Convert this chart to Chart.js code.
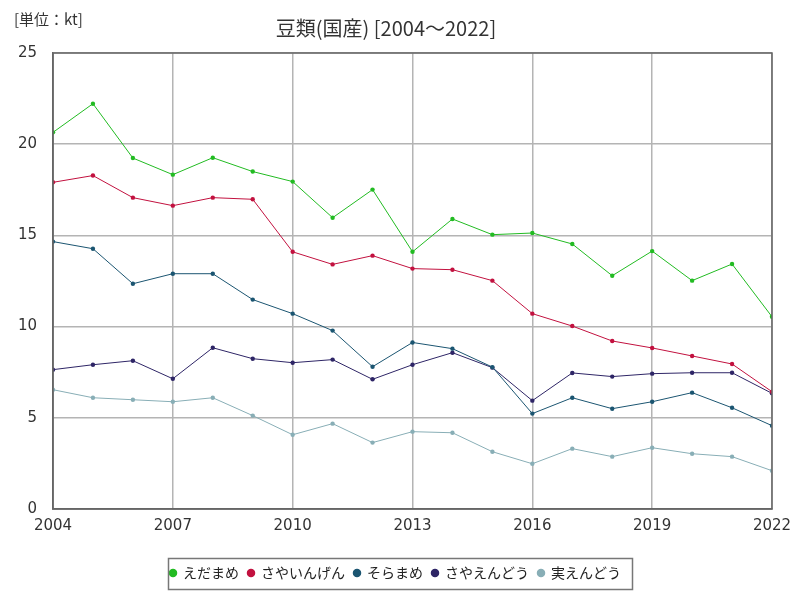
<!DOCTYPE html>
<html>
<head>
<meta charset="utf-8">
<script src="https://cdn.jsdelivr.net/npm/chart.js@4/dist/chart.umd.min.js"></script>
<style>
  html, body { margin: 0; padding: 0; background: #fff; }
  #wrap { position: relative; width: 800px; height: 600px; }
  #unit { position: absolute; left: 14px; top: 8px; font: 15px "Noto Sans CJK JP", sans-serif; color: #333; }
</style>
</head>
<body>
<div id="wrap">
  <canvas id="myChart" width="800" height="600"></canvas>
  <div id="unit">[単位：kt]</div>
</div>
<script>
"use strict";
const years = [2004, 2005, 2006, 2007, 2008, 2009, 2010, 2011, 2012, 2013, 2014, 2015, 2016, 2017, 2018, 2019, 2020, 2021, 2022];
const edamame = [20.65, 22.22, 19.24, 18.33, 19.26, 18.5, 17.95, 15.97, 17.51, 14.1, 15.9, 15.04, 15.13, 14.53, 12.79, 14.14, 12.52, 13.43, 10.54];
const sayaingen = [17.91, 18.28, 17.07, 16.63, 17.07, 16.98, 14.1, 13.41, 13.89, 13.18, 13.12, 12.52, 10.71, 10.03, 9.21, 8.83, 8.39, 7.95, 6.43];
const soramame = [14.66, 14.27, 12.35, 12.9, 12.9, 11.48, 10.71, 9.78, 7.8, 9.13, 8.79, 7.78, 5.23, 6.1, 5.5, 5.88, 6.38, 5.55, 4.57];
const sayaendou = [7.64, 7.91, 8.13, 7.14, 8.84, 8.24, 8.02, 8.19, 7.11, 7.91, 8.57, 7.75, 5.94, 7.46, 7.26, 7.42, 7.47, 7.47, 6.34];
const miendou = [6.54, 6.1, 5.99, 5.88, 6.1, 5.12, 4.07, 4.68, 3.64, 4.24, 4.18, 3.14, 2.48, 3.31, 2.87, 3.36, 3.03, 2.87, 2.1];

const seriesNames = ["えだまめ", "さやいんげん", "そらまめ", "さやえんどう", "実えんどう"];
const seriesColors = ["#22bb22", "#c2113f", "#1b5571", "#2e2566", "#88aeb6"];
const seriesValues = [edamame, sayaingen, soramame, sayaendou, miendou];

const datasets = seriesNames.map((name, k) => ({
  label: name,
  data: years.map((y, i) => ({ x: y, y: seriesValues[k][i] })),
  borderColor: seriesColors[k],
  backgroundColor: seriesColors[k],
  borderWidth: 1,
  pointRadius: 2.2,
  pointHoverRadius: 3,
  pointBorderWidth: 0,
  tension: 0,
}));

let legendBox = null;

// frame around plot area; legend centred on the page with a box round it
const framePlugin = {
  id: "frame",
  afterLayout(chart) {
    const lg = chart.legend;
    if (!lg.lineWidths || !lg.lineWidths.length) return;
    const pad = lg.options.labels.padding;
    const rowW = lg.lineWidths[0];
    const shift = chart.width / 2 - (lg.left + pad + lg.right) / 2;
    lg.left += shift;
    lg.right += shift;
    const w = rowW + 4;
    legendBox = { left: chart.width / 2 - w / 2, top: lg.top + 1, width: w, height: lg.height - 2 };
  },
  afterDraw(chart) {
    const ctx = chart.ctx;
    const a = chart.chartArea;
    ctx.save();
    ctx.strokeStyle = "#666666";
    ctx.lineWidth = 1.5;
    ctx.strokeRect(a.left, a.top, a.right - a.left, a.bottom - a.top);
    if (legendBox) {
      ctx.strokeStyle = "#777777";
      ctx.strokeRect(Math.round(legendBox.left) + 0.5, Math.round(legendBox.top) + 0.5,
        Math.round(legendBox.width), Math.round(legendBox.height));
    }
    ctx.restore();
  },
};

const config = {
  type: "line",
  data: { datasets: datasets },
  options: {
    responsive: false,
    animation: false,
    layout: { padding: { left: 0, right: 28, top: 0, bottom: 10 } },
    plugins: {
      title: {
        display: true,
        text: "豆類(国産) [2004～2022]",
        color: "#333",
        font: { family: "'Noto Sans CJK JP', sans-serif", size: 20, weight: "normal" },
        padding: { top: 16, bottom: 13 },
      },
      legend: {
        display: true,
        position: "bottom",
        labels: {
          usePointStyle: true,
          pointStyle: "circle",
          boxWidth: 6,
          boxHeight: 6,
          padding: 9,
          color: "#222",
          font: { family: "'Noto Sans CJK JP', sans-serif", size: 14 },
        },
      },
      tooltip: { enabled: false },
    },
    scales: {
      x: {
        type: "linear",
        min: 2004,
        max: 2022,
        ticks: {
          stepSize: 3,
          color: "#333",
          padding: 8,
          font: { family: "'DejaVu Sans', sans-serif", size: 15 },
          callback: (v) => String(v),
          maxRotation: 0,
        },
        grid: { color: "#b4b4b4", lineWidth: 1.5, drawTicks: false },
        border: { color: "#666", width: 1.5 },
        afterFit: (scale) => {
          scale.height = 48;
          scale.paddingLeft = 0;
          scale.paddingRight = 0;
        },
      },
      y: {
        min: 0,
        max: 25,
        ticks: {
          stepSize: 5,
          color: "#333",
          padding: 16,
          font: { family: "'DejaVu Sans', sans-serif", size: 15 },
        },
        grid: { color: "#b4b4b4", lineWidth: 1.5, drawTicks: false },
        border: { color: "#666", width: 1.5 },
        afterFit: (scale) => { scale.width = 53; },
      },
    },
  },
  plugins: [framePlugin],
};

const myChart = new Chart(document.getElementById("myChart"), config);
</script>
</body>
</html>
